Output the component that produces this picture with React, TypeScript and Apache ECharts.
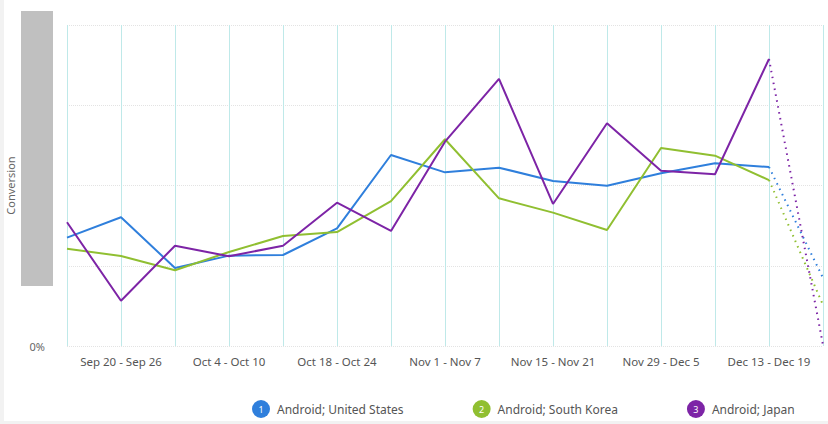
import { useRef, useEffect } from 'react'
import * as echarts from 'echarts'

const weeks = [
  'Sep 13 - Sep 19', 'Sep 20 - Sep 26', 'Sep 27 - Oct 3', 'Oct 4 - Oct 10',
  'Oct 11 - Oct 17', 'Oct 18 - Oct 24', 'Oct 25 - Oct 31', 'Nov 1 - Nov 7',
  'Nov 8 - Nov 14', 'Nov 15 - Nov 21', 'Nov 22 - Nov 28', 'Nov 29 - Dec 5',
  'Dec 6 - Dec 12', 'Dec 13 - Dec 19', 'Dec 20 - Dec 26',
]

const seriesNames = ['Android; United States', 'Android; South Korea', 'Android; Japan']
const seriesColors = ['#2f7fdc', '#90bf31', '#7d24a6']

// conversion %, last point is the incomplete week (dotted)
const unitedStates = [6.75, 8.02, 4.86, 5.63, 5.67, 7.33, 11.9, 10.82, 11.11, 10.28, 9.99, 10.76, 11.38, 11.15, 4.24]
const southKorea = [6.06, 5.61, 4.72, 5.86, 6.85, 7.1, 9.03, 12.88, 9.2, 8.31, 7.23, 12.34, 11.86, 10.34, 2.55]
const japan = [7.71, 2.82, 6.25, 5.59, 6.25, 8.93, 7.17, 12.73, 16.64, 8.85, 13.88, 10.92, 10.7, 17.88, 0.06]

const allValues = [unitedStates, southKorea, japan]

function App() {
  const chartRef = useRef<HTMLDivElement>(null)

  useEffect(() => {
    if (!chartRef.current) return
    const myChart = echarts.init(chartRef.current, null, { renderer: 'svg' })
    const last = weeks.length - 1

    const solid = allValues.map((vals, i) => ({
      name: seriesNames[i],
      type: 'line',
      data: vals.map((v, j) => (j < last ? v : null)),
      symbol: 'none',
      lineStyle: { width: 2, color: seriesColors[i] },
      itemStyle: { color: seriesColors[i] },
    }))
    const dotted = allValues.map((vals, i) => ({
      name: seriesNames[i],
      type: 'line',
      data: vals.map((v, j) => (j >= last - 1 ? v : null)),
      symbol: 'none',
      lineStyle: { width: 2, color: seriesColors[i], type: [1.5, 4.5], cap: 'butt' },
      itemStyle: { color: seriesColors[i] },
    }))

    const rich: any = {
      t: { color: '#555', fontSize: 12, padding: [0, 0, 0, 7], fontFamily: 'Noto Sans' },
    }
    seriesColors.forEach((c, i) => {
      rich['n' + i] = {
        width: 18, height: 18, lineHeight: 18, borderRadius: 9, align: 'center',
        backgroundColor: c, color: '#fff', fontSize: 9, fontFamily: 'Noto Sans',
      }
    })

    const option = {
      animation: false,
      backgroundColor: '#fff',
      textStyle: { fontFamily: 'Noto Sans' },
      grid: { left: 67, right: 5, top: 25, bottom: 78, outerBoundsMode: 'none', containLabel: false },
      legend: {
        data: seriesNames,
        left: 242,
        top: 395,
        icon: 'none',
        itemWidth: 0,
        itemHeight: 18,
        itemGap: 64,
        formatter: (name: string) => {
          const i = seriesNames.indexOf(name)
          return `{n${i}|${i + 1}}{t|${name}}`
        },
        textStyle: { rich },
      },
      xAxis: {
        type: 'category',
        data: weeks,
        boundaryGap: false,
        axisLine: { show: false },
        axisTick: { show: false },
        axisLabel: {
          interval: (i: number) => i % 2 === 1,
          color: '#555',
          fontSize: 11.5,
          margin: 9,
        },
        splitLine: { show: true, interval: 0, lineStyle: { color: '#bfe9e9', width: 1 } },
      },
      yAxis: {
        type: 'value',
        min: 0,
        max: 20,
        interval: 5,
        name: 'Conversion',
        nameLocation: 'middle',
        nameGap: 51,
        nameTextStyle: { color: '#666', fontSize: 11 },
        axisLine: { show: false },
        axisTick: { show: false },
        axisLabel: {
          color: '#666',
          fontSize: 11,
          margin: 22,
          formatter: (v: number) => (v === 0 ? '0%' : ''),
        },
        splitLine: { lineStyle: { color: '#e3e3e3', type: 'dotted' } },
      },
      graphic: [
        { type: 'rect', shape: { x: 0, y: 0, width: 4, height: 424 }, style: { fill: '#f2f2f2' }, silent: true },
        { type: 'rect', shape: { x: 0, y: 421, width: 828, height: 3 }, style: { fill: '#f2f2f2' }, silent: true },
        { type: 'rect', shape: { x: 21, y: 11, width: 32, height: 275 }, style: { fill: '#c0c0c0' }, silent: true, z: 100 },
      ],
      series: [...solid, ...dotted],
    }
    myChart.setOption(option as any)

    return () => {
      myChart.dispose()
    }
  }, [])

  return <div ref={chartRef} style={{ position: 'absolute', left: 0, top: 0, width: '828px', height: '424px' }}></div>
}

export default App
